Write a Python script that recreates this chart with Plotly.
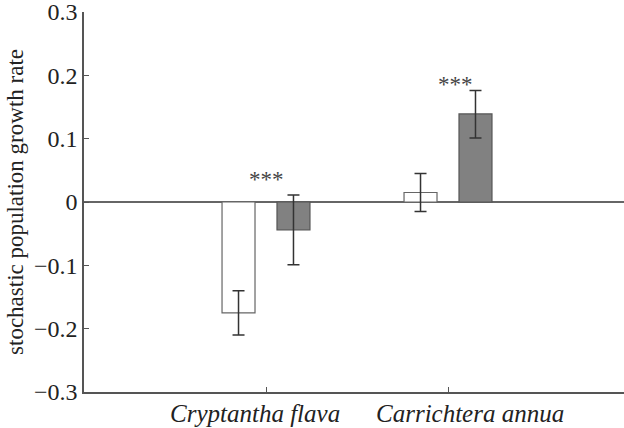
import plotly.graph_objects as go

categories = ["Cryptantha flava", "Carrichtera annua"]
label_shift_px = [-11, 22]
white_vals = [-0.175, 0.015]
white_err_plus = [0.035, 0.030]
white_err_minus = [0.035, 0.030]
grey_vals = [-0.044, 0.139]
grey_err_plus = [0.055, 0.037]
grey_err_minus = [0.055, 0.038]
sig_labels = ["***", "***"]
sig_x = [0.005, 1.04]
sig_y = [0.035, 0.185]
y_ticks = [-0.3, -0.2, -0.1, 0, 0.1, 0.2, 0.3]
y_ticktext = ["\u22120.3", "\u22120.2", "\u22120.1", "0", "0.1", "0.2", "0.3"]
y_title = "\u00a0" * 5 + "stochastic population growth rate"

FONT = "Liberation Serif"
TXT = "#222222"

fig = go.Figure()
fig.add_trace(go.Bar(
    x=categories, y=white_vals,
    marker=dict(color="white", line=dict(color="#666666", width=1.2)),
    error_y=dict(type="data", symmetric=False, array=white_err_plus,
                 arrayminus=white_err_minus, color="#333333", thickness=1.5, width=6),
    showlegend=False,
))
fig.add_trace(go.Bar(
    x=categories, y=grey_vals,
    marker=dict(color="#818181", line=dict(color="#555555", width=1.2)),
    error_y=dict(type="data", symmetric=False, array=grey_err_plus,
                 arrayminus=grey_err_minus, color="#333333", thickness=1.5, width=6),
    showlegend=False,
))

for sx, sy, lab in zip(sig_x, sig_y, sig_labels):
    fig.add_annotation(x=sx, y=sy, text=lab, showarrow=False,
                       font=dict(family=FONT, size=23, color="#444444"),
                       xref="x", yref="y")

# category labels (placed slightly off-centre from ticks, as in the original)
for cat, dx in zip(categories, label_shift_px):
    fig.add_annotation(x=cat, y=0, xref="x", yref="paper", text=cat,
                       showarrow=False, xanchor="center", yanchor="top",
                       xshift=dx, yshift=-6,
                       font=dict(family=FONT, size=25, color=TXT, style="italic"))

fig.update_layout(
    width=624, height=428,
    margin=dict(l=84, r=0, t=12, b=36, autoexpand=False),
    paper_bgcolor="white", plot_bgcolor="white",
    barmode="group", bargap=0.396, bargroupgap=0.4,
    font=dict(family=FONT, color=TXT, size=19),
)
fig.update_xaxes(
    type="category", range=[-1.0, 1.967],
    tickvals=categories, showticklabels=False, automargin=False,
    showline=True, linecolor="#555555", linewidth=1.5,
    ticks="inside", ticklen=5, tickcolor="#555555", tickwidth=1.2,
    showgrid=False, zeroline=False,
)
fig.update_yaxes(
    range=[-0.3, 0.3], tickvals=y_ticks, ticktext=y_ticktext, automargin=False,
    showline=True, linecolor="#555555", linewidth=1.5,
    ticks="inside", ticklen=5, tickcolor="#555555", tickwidth=1.2,
    tickfont=dict(family=FONT, size=24, color=TXT),
    ticklabeloverflow="allow",
    showgrid=False, zeroline=True, zerolinecolor="#666666", zerolinewidth=1.5,
    title=dict(text=y_title,
               font=dict(family=FONT, size=23, color=TXT), standoff=4),
)

fig.write_html("out.html", config={"displayModeBar": False},
               post_script="document.body.style.margin='0';document.body.style.overflow='hidden';")
